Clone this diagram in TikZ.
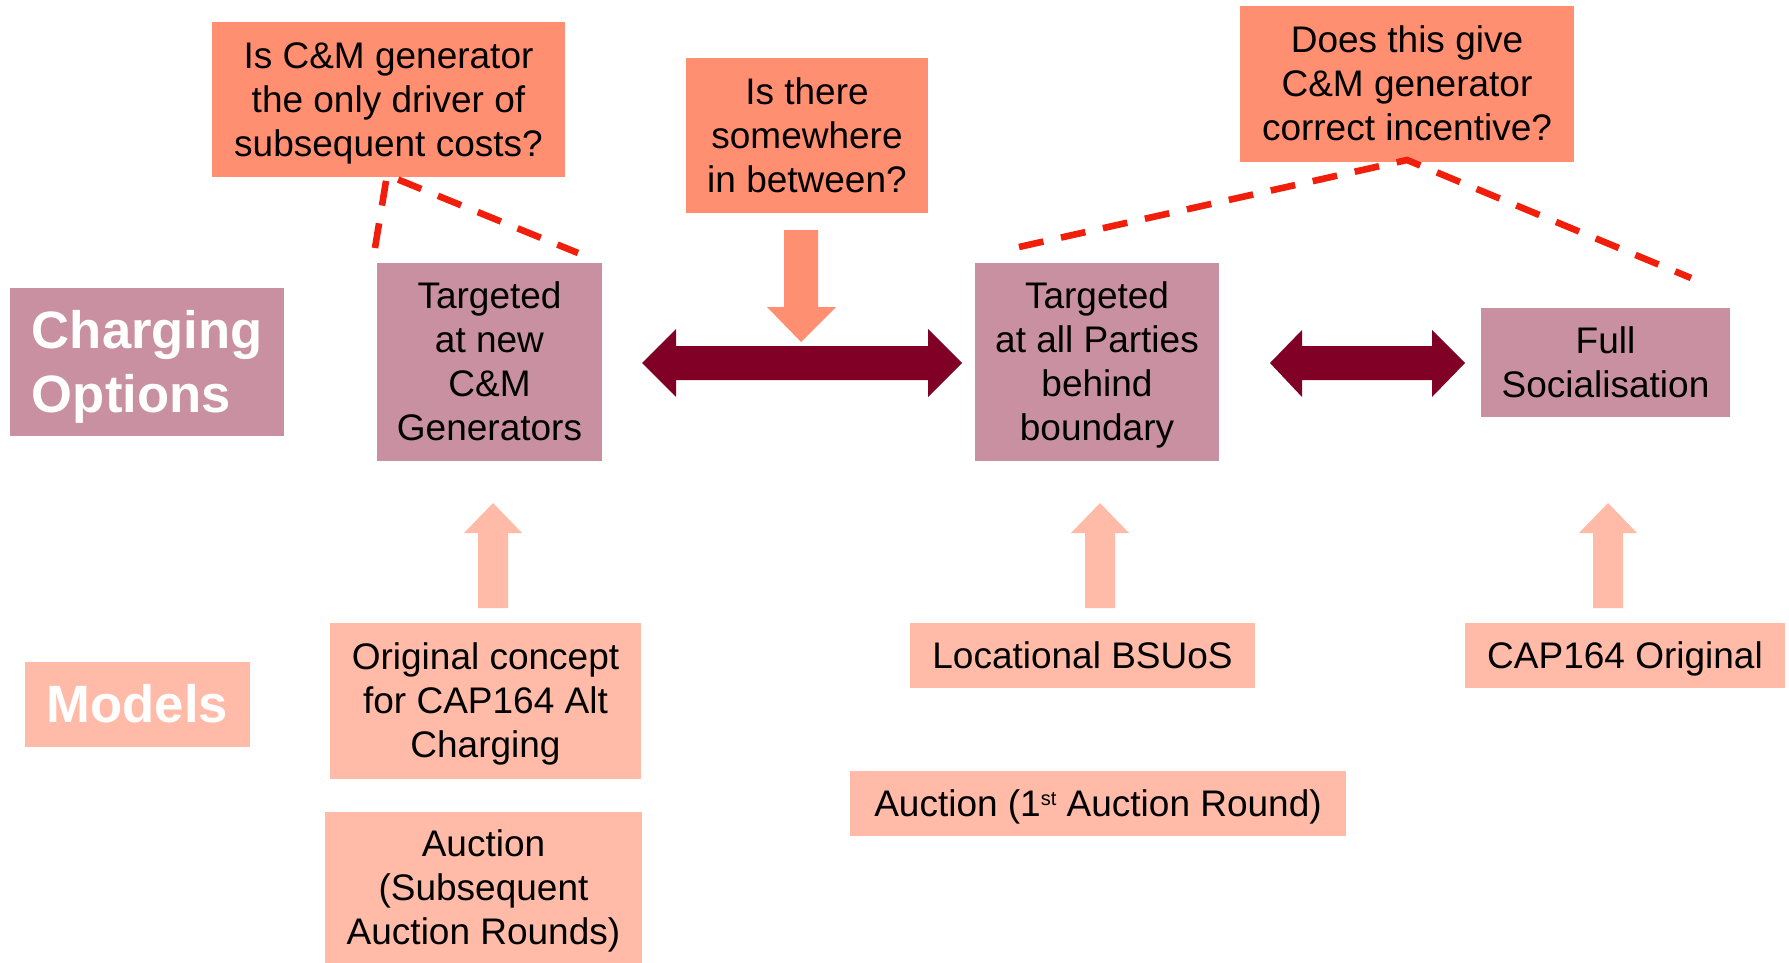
\documentclass[tikz,border=0pt]{standalone}
\usepackage{fontspec}
\setmainfont{Liberation Sans}
\definecolor{qcol}{HTML}{FF8F70}
\definecolor{mauve}{HTML}{C890A0}
\definecolor{mcol}{HTML}{FFBBA8}
\definecolor{dark}{HTML}{800026}
\definecolor{dred}{HTML}{F01E0A}
\newcommand\bs{\rule[-3.9pt]{0pt}{20.6pt}}
\newcommand\hs{\rule[-5.6pt]{0pt}{29.4pt}}
\begin{document}
\begin{tikzpicture}[x=0.5pt,y=-0.5pt,
  base/.style={inner sep=0pt,outer sep=0pt,align=center,text=black,
    font=\fontsize{18.5}{22}\selectfont},
  qbox/.style={base,fill=qcol},
  obox/.style={base,fill=mauve},
  mbox/.style={base,fill=mcol},
  head/.style={inner sep=0pt,outer sep=0pt,text=white,
    font=\fontsize{26.3}{32}\selectfont\bfseries},
  dline/.style={draw=dred,line width=3.3pt,dash pattern=on 12.5pt off 9pt},
  blockdark/.style={fill=dark},
  blockq/.style={fill=qcol},
  blockm/.style={fill=mcol}]
\useasboundingbox (0,0) rectangle (1789,963);
% question boxes
\node[qbox,minimum width=176.5pt,minimum height=77.5pt] (q1) at (388.5,99.5)
  {\bs Is C\&M generator\\the only driver of\\subsequent costs?\bs};
\node[qbox,minimum width=121pt,minimum height=77.5pt] (q2) at (807,135.5)
  {\bs Is there\\somewhere\\in between?\bs};
\node[qbox,minimum width=167pt,minimum height=78pt] (q3) at (1407,84)
  {\bs Does this give\\C\&M generator\\correct incentive?\bs};
% charging options
\node[head,fill=mauve,minimum width=137pt,minimum height=74pt,
  text width=115pt,inner xsep=11pt,align=left] (co) at (147,362)
  {\hs Charging\\Options\hs};
\node[obox,minimum width=112.5pt,minimum height=99pt] (t1) at (489.5,362)
  {\bs Targeted\\at new\\C\&M\\Generators\bs};
\node[obox,minimum width=122pt,minimum height=99pt] (t2) at (1097,362)
  {\bs Targeted\\at all Parties\\behind\\boundary\bs};
\node[obox,minimum width=124.5pt,minimum height=54.5pt] (fs) at (1605.5,362.5)
  {\bs Full\\Socialisation\bs};
% models
\node[head,fill=mcol,minimum width=112.5pt,minimum height=42.5pt] (mo) at (137.5,704.5)
  {\hs Models};
\node[mbox,minimum width=155.5pt,minimum height=78pt] (m1) at (485.5,701)
  {\bs Original concept\\for CAP164 Alt\\Charging\bs};
\node[mbox,minimum width=158.5pt,minimum height=75.5pt] (m2) at (483.5,887.5)
  {\bs Auction\\(Subsequent\\Auction Rounds)\bs};
\node[mbox,minimum width=172.5pt,minimum height=32.5pt] (m3) at (1082.5,655.5)
  {\bs Locational BSUoS};
\node[mbox,minimum width=160pt,minimum height=32.5pt] (m4) at (1625,655.5)
  {\bs CAP164 Original};
\node[mbox,minimum width=248pt,minimum height=32.5pt] (m5) at (1098,803.5)
  {\bs Auction (1\raisebox{5.5pt}{\fontsize{10}{10}\selectfont st} Auction Round)};
% dashed connectors
\coordinate (a1) at (375,248);
\coordinate (p1) at (387,175);
\coordinate (b1) at (578,253);
\coordinate (a3) at (1019,247);
\coordinate (p3) at (1407,160);
\coordinate (b3) at (1691,278);
\draw[dline] (a1) -- (p1) -- (b1);
\draw[dline] (a3) -- (p3) -- (b3);
% double arrows
\fill[blockdark] (642,363) -- (676,329) -- (676,346) -- (928,346) -- (928,329)
  -- (962,363) -- (928,397) -- (928,380) -- (676,380) -- (676,397) -- cycle;
\fill[blockdark] (1270,363) -- (1302,330) -- (1302,346) -- (1432,346) -- (1432,330)
  -- (1465,363) -- (1432,397) -- (1432,380) -- (1302,380) -- (1302,397) -- cycle;
% down arrow
\fill[blockq] (784,230) -- (818,230) -- (818,307) -- (836,307) -- (801,342)
  -- (767,307) -- (784,307) -- cycle;
% up arrows
\foreach \cx in {493,1100,1608}{
  \fill[blockm] (\cx-15,608) -- (\cx-15,533) -- (\cx-29,533) -- (\cx,503)
    -- (\cx+29,533) -- (\cx+15,533) -- (\cx+15,608) -- cycle;
}
\end{tikzpicture}
\end{document}
